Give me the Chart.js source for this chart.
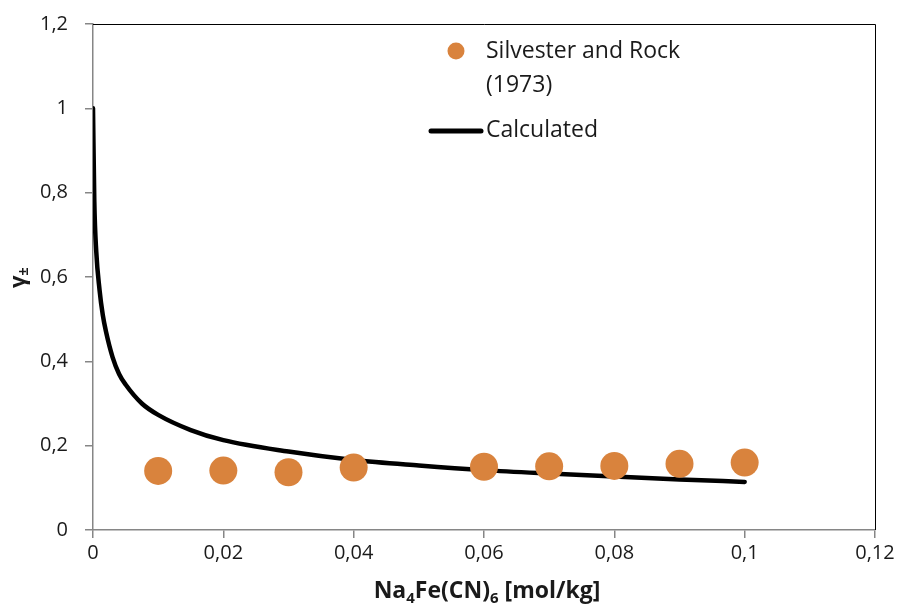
<!DOCTYPE html>
<html>
<head>
<meta charset="utf-8">
<script src="https://cdn.jsdelivr.net/npm/chart.js@4"></script>
<style>
  html, body { margin: 0; padding: 0; background: #fff; }
  #wrap { width: 902px; height: 608px; }
</style>
</head>
<body>
<div id="wrap"><canvas id="chart" width="902" height="608"></canvas></div>
<script>
// experimental points (Silvester and Rock, 1973)
const expX = [0.01, 0.02, 0.03, 0.04, 0.06, 0.07, 0.08, 0.09, 0.1];
const expY = [0.140, 0.141, 0.137, 0.148, 0.150, 0.151, 0.152, 0.157, 0.160];

// calculated curve
const calcX = [0, 0.0002, 0.0005, 0.001, 0.0015, 0.002, 0.003, 0.004, 0.005, 0.0075, 0.01, 0.015, 0.02, 0.03, 0.04, 0.05, 0.06, 0.07, 0.08, 0.09, 0.1];
const calcY = [1.0, 0.78, 0.66, 0.57, 0.51, 0.47, 0.41, 0.37, 0.345, 0.30, 0.273, 0.237, 0.213, 0.186, 0.166, 0.153, 0.142, 0.134, 0.127, 0.120, 0.114];

const xTicks = [0, 0.02, 0.04, 0.06, 0.08, 0.1, 0.12];
const yTicks = [0, 0.2, 0.4, 0.6, 0.8, 1, 1.2];

const seriesNames = ['Silvester and Rock', '(1973)', 'Calculated'];
const dotColor = '#D9833D';
const fontFam = '"Open Sans", Lato, sans-serif';

const fmt = v => String(+Number(v).toFixed(2)).replace('.', ',');

const toXY = (xs, ys) => xs.map((x, i) => ({ x: x, y: ys[i] }));

const extras = {
  id: 'extras',
  afterDraw(chart) {
    const ctx = chart.ctx;
    const a = chart.chartArea;
    ctx.save();
    // frame top and right
    ctx.strokeStyle = '#000';
    ctx.lineWidth = 1;
    ctx.beginPath();
    ctx.moveTo(a.left, a.top + 0.5);
    ctx.lineTo(a.right + 0.5, a.top + 0.5);
    ctx.lineTo(a.right + 0.5, a.bottom);
    ctx.stroke();

    // legend
    ctx.fillStyle = dotColor;
    ctx.beginPath();
    ctx.arc(456, 51, 8.5, 0, Math.PI * 2);
    ctx.fill();
    ctx.strokeStyle = '#000';
    ctx.lineWidth = 5;
    ctx.lineCap = 'round';
    ctx.beginPath();
    ctx.moveTo(431, 131);
    ctx.lineTo(481, 131);
    ctx.stroke();
    ctx.fillStyle = '#1a1a1a';
    ctx.font = '23px ' + fontFam;
    ctx.textBaseline = 'middle';
    ctx.textAlign = 'left';
    ctx.fillText(seriesNames[0], 486, 51);
    ctx.fillText(seriesNames[1], 486, 85);
    ctx.fillText(seriesNames[2], 486, 130);

    // x axis title with subscripts
    const parts = [['Na', 0], ['4', 1], ['Fe(CN)', 0], ['6', 1], [' [mol/kg]', 0]];
    const big = 'bold 23px ' + fontFam, small = 'bold 15px ' + fontFam;
    let w = 0;
    parts.forEach(p => { ctx.font = p[1] ? small : big; w += ctx.measureText(p[0]).width; });
    let x = 487 - w / 2;
    ctx.textBaseline = 'alphabetic';
    parts.forEach(p => {
      ctx.font = p[1] ? small : big;
      ctx.fillText(p[0], x, p[1] ? 603 : 598);
      x += ctx.measureText(p[0]).width;
    });

    // y axis title
    ctx.translate(25, 288);
    ctx.rotate(-Math.PI / 2);
    ctx.font = 'bold 22px ' + fontFam;
    ctx.fillText('γ', 0, 0);
    const gw = ctx.measureText('γ').width;
    ctx.font = 'bold 14px ' + fontFam;
    ctx.fillText('±', gw, 3);
    ctx.restore();
  }
};

new Chart(document.getElementById('chart'), {
  type: 'scatter',
  data: {
    datasets: [{
      label: seriesNames[0] + ' ' + seriesNames[1],
      data: toXY(expX, expY),
      backgroundColor: dotColor,
      borderWidth: 0,
      pointRadius: 14,
      pointHoverRadius: 14
    }, {
      label: seriesNames[2],
      data: toXY(calcX, calcY),
      showLine: true,
      borderColor: '#000',
      borderWidth: 4.5,
      pointRadius: 0,
      cubicInterpolationMode: 'monotone',
      borderCapStyle: 'round'
    }]
  },
  options: {
    responsive: false,
    animation: false,
    layout: { padding: { left: 0, right: 27, top: 24, bottom: 0 } },
    plugins: { legend: { display: false }, tooltip: { enabled: false } },
    scales: {
      x: {
        type: 'linear', min: 0, max: 0.12,
        afterBuildTicks: s => { s.ticks = xTicks.map(v => ({ value: v })); },
        afterFit: s => { s.height = 78; s.paddingLeft = 0; s.paddingRight = 0; },
        grid: { drawOnChartArea: false, color: '#868686', tickLength: 8, lineWidth: 1.5 },
        border: { color: '#868686', width: 1.5 },
        ticks: { callback: fmt, color: '#1a1a1a', font: { family: fontFam, size: 20 }, padding: 3, maxRotation: 0 }
      },
      y: {
        type: 'linear', min: 0, max: 1.2,
        afterBuildTicks: s => { s.ticks = yTicks.map(v => ({ value: v })); },
        afterFit: s => { s.width = 93; s.paddingTop = 0; s.paddingBottom = 0; },
        grid: { drawOnChartArea: false, color: '#868686', tickLength: 8, lineWidth: 1.5 },
        border: { color: '#868686', width: 1.5 },
        ticks: { callback: fmt, color: '#1a1a1a', font: { family: fontFam, size: 20 }, padding: 17 }
      }
    }
  },
  plugins: [extras]
});
</script>
</body>
</html>
